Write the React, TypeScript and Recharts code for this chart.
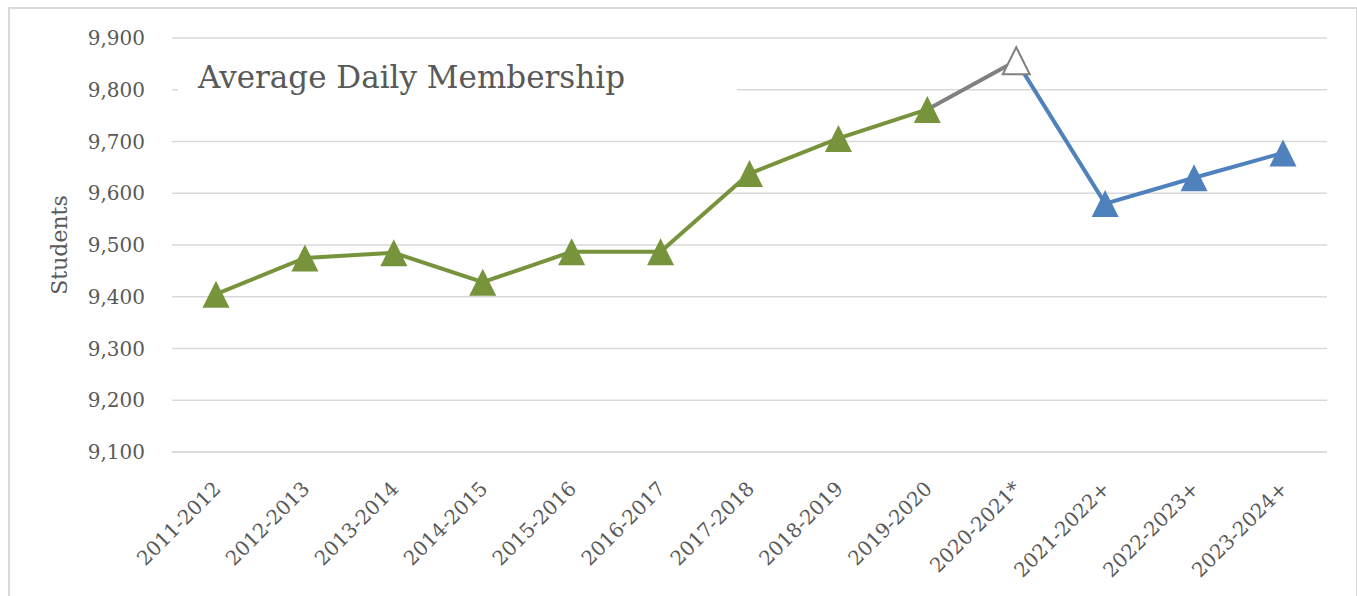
import React from "react";
import { LineChart, Line, XAxis, YAxis, CartesianGrid } from "recharts";

const years = [
  "2011-2012", "2012-2013", "2013-2014", "2014-2015", "2015-2016", "2016-2017", "2017-2018",
  "2018-2019", "2019-2020", "2020-2021*", "2021-2022+", "2022-2023+", "2023-2024+",
];
// actual membership (green), the covid year bridge (gray) and projections (blue)
const actual = [9405, 9475, 9485, 9428, 9487, 9487, 9638, 9706, 9762, null, null, null, null];
const bridge = [null, null, null, null, null, null, null, null, 9762, 9856, null, null, null];
const projected = [null, null, null, null, null, null, null, null, null, 9856, 9580, 9630, 9678];
const yTicks = [9100, 9200, 9300, 9400, 9500, 9600, 9700, 9800, 9900];

const data = years.map((year, i) => ({
  year,
  actual: actual[i],
  bridge: bridge[i],
  projected: projected[i],
}));

const FONT = "'DejaVu Serif', serif";
const TEXT = "#595959";
const GREEN = "#77933c";
const BLUE = "#4f81bd";
const GRAY = "#808080";

function triangle(props: any, fill: string, stroke?: string) {
  const { cx, cy, index } = props;
  if (cx == null || cy == null || props.value == null) return <g key={index} />;
  const h = 13.5;
  const d = `M${cx},${cy - h} L${cx + h},${cy + h} L${cx - h},${cy + h} Z`;
  return (
    <path
      key={index}
      d={d}
      fill={fill}
      stroke={stroke || fill}
      strokeWidth={stroke ? 2 : 0}
      strokeLinejoin="miter"
    />
  );
}

const XTick = (props: any) => {
  const { x, y, payload } = props;
  const tx = x + 1;
  const ty = y + 33;
  return (
    <text
      x={tx}
      y={ty}
      dy="0.35em"
      textAnchor="end"
      transform={`rotate(-45 ${tx} ${ty})`}
      fill={TEXT}
      fontSize={20}
      fontFamily={FONT}
    >
      {payload.value}
    </text>
  );
};

export default function App() {
  return (
    <div style={{ position: "absolute", left: 0, top: 0, width: 1357, height: 596, background: "#fff", overflow: "hidden" }}>
      <div
        style={{
          position: "absolute",
          left: 8,
          top: 7,
          width: 1346,
          height: 620,
          border: "2px solid #d9d9d9",
        }}
      />
      <LineChart width={1357} height={596} data={data} margin={{ top: 38, right: 30, left: 0, bottom: 0 }}>
        <CartesianGrid vertical={false} stroke="#d9d9d9" strokeWidth={1.5} />
        <XAxis
          dataKey="year"
          height={144}
          padding={{ left: 44, right: 44 }}
          axisLine={{ stroke: "#d9d9d9", strokeWidth: 1.5 }}
          tickLine={false}
          tickSize={0}
          tickMargin={0}
          interval={0}
          tick={<XTick />}
        />
        <YAxis
          width={172}
          domain={[9100, 9900]}
          ticks={yTicks}
          allowDataOverflow
          axisLine={false}
          tickLine={false}
          tickSize={0}
          tickMargin={27}
          tickFormatter={(v: number) => v.toLocaleString("en-US")}
          tick={{ fill: TEXT, fontSize: 20, fontFamily: FONT }}
          label={{
            content: () => (
              <text
                x={67}
                y={245}
                transform="rotate(-90 67 245)"
                textAnchor="middle"
                fill={TEXT}
                fontSize={22}
                fontFamily={FONT}
              >
                Students
              </text>
            ),
          }}
        />
        <Line
          dataKey="bridge"
          stroke={GRAY}
          strokeWidth={4}
          dot={false}
          activeDot={false}
          connectNulls={false}
          isAnimationActive={false}
        />
        <Line
          dataKey="actual"
          stroke={GREEN}
          strokeWidth={4}
          dot={(p: any) => triangle(p, GREEN)}
          activeDot={false}
          isAnimationActive={false}
        />
        <Line
          dataKey="projected"
          stroke={BLUE}
          strokeWidth={4}
          dot={(p: any) => (p.index === 9 ? triangle(p, "#ffffff", GRAY) : triangle(p, BLUE))}
          activeDot={false}
          isAnimationActive={false}
        />
      </LineChart>
      <div
        style={{
          position: "absolute",
          left: 178,
          top: 48,
          width: 559,
          height: 72,
          background: "#fff",
        }}
      >
        <div
          style={{
            position: "absolute",
            left: 20,
            top: 11,
            fontFamily: FONT,
            fontSize: 31,
            color: TEXT,
            whiteSpace: "nowrap",
          }}
        >
          Average Daily Membership
        </div>
      </div>
    </div>
  );
}
